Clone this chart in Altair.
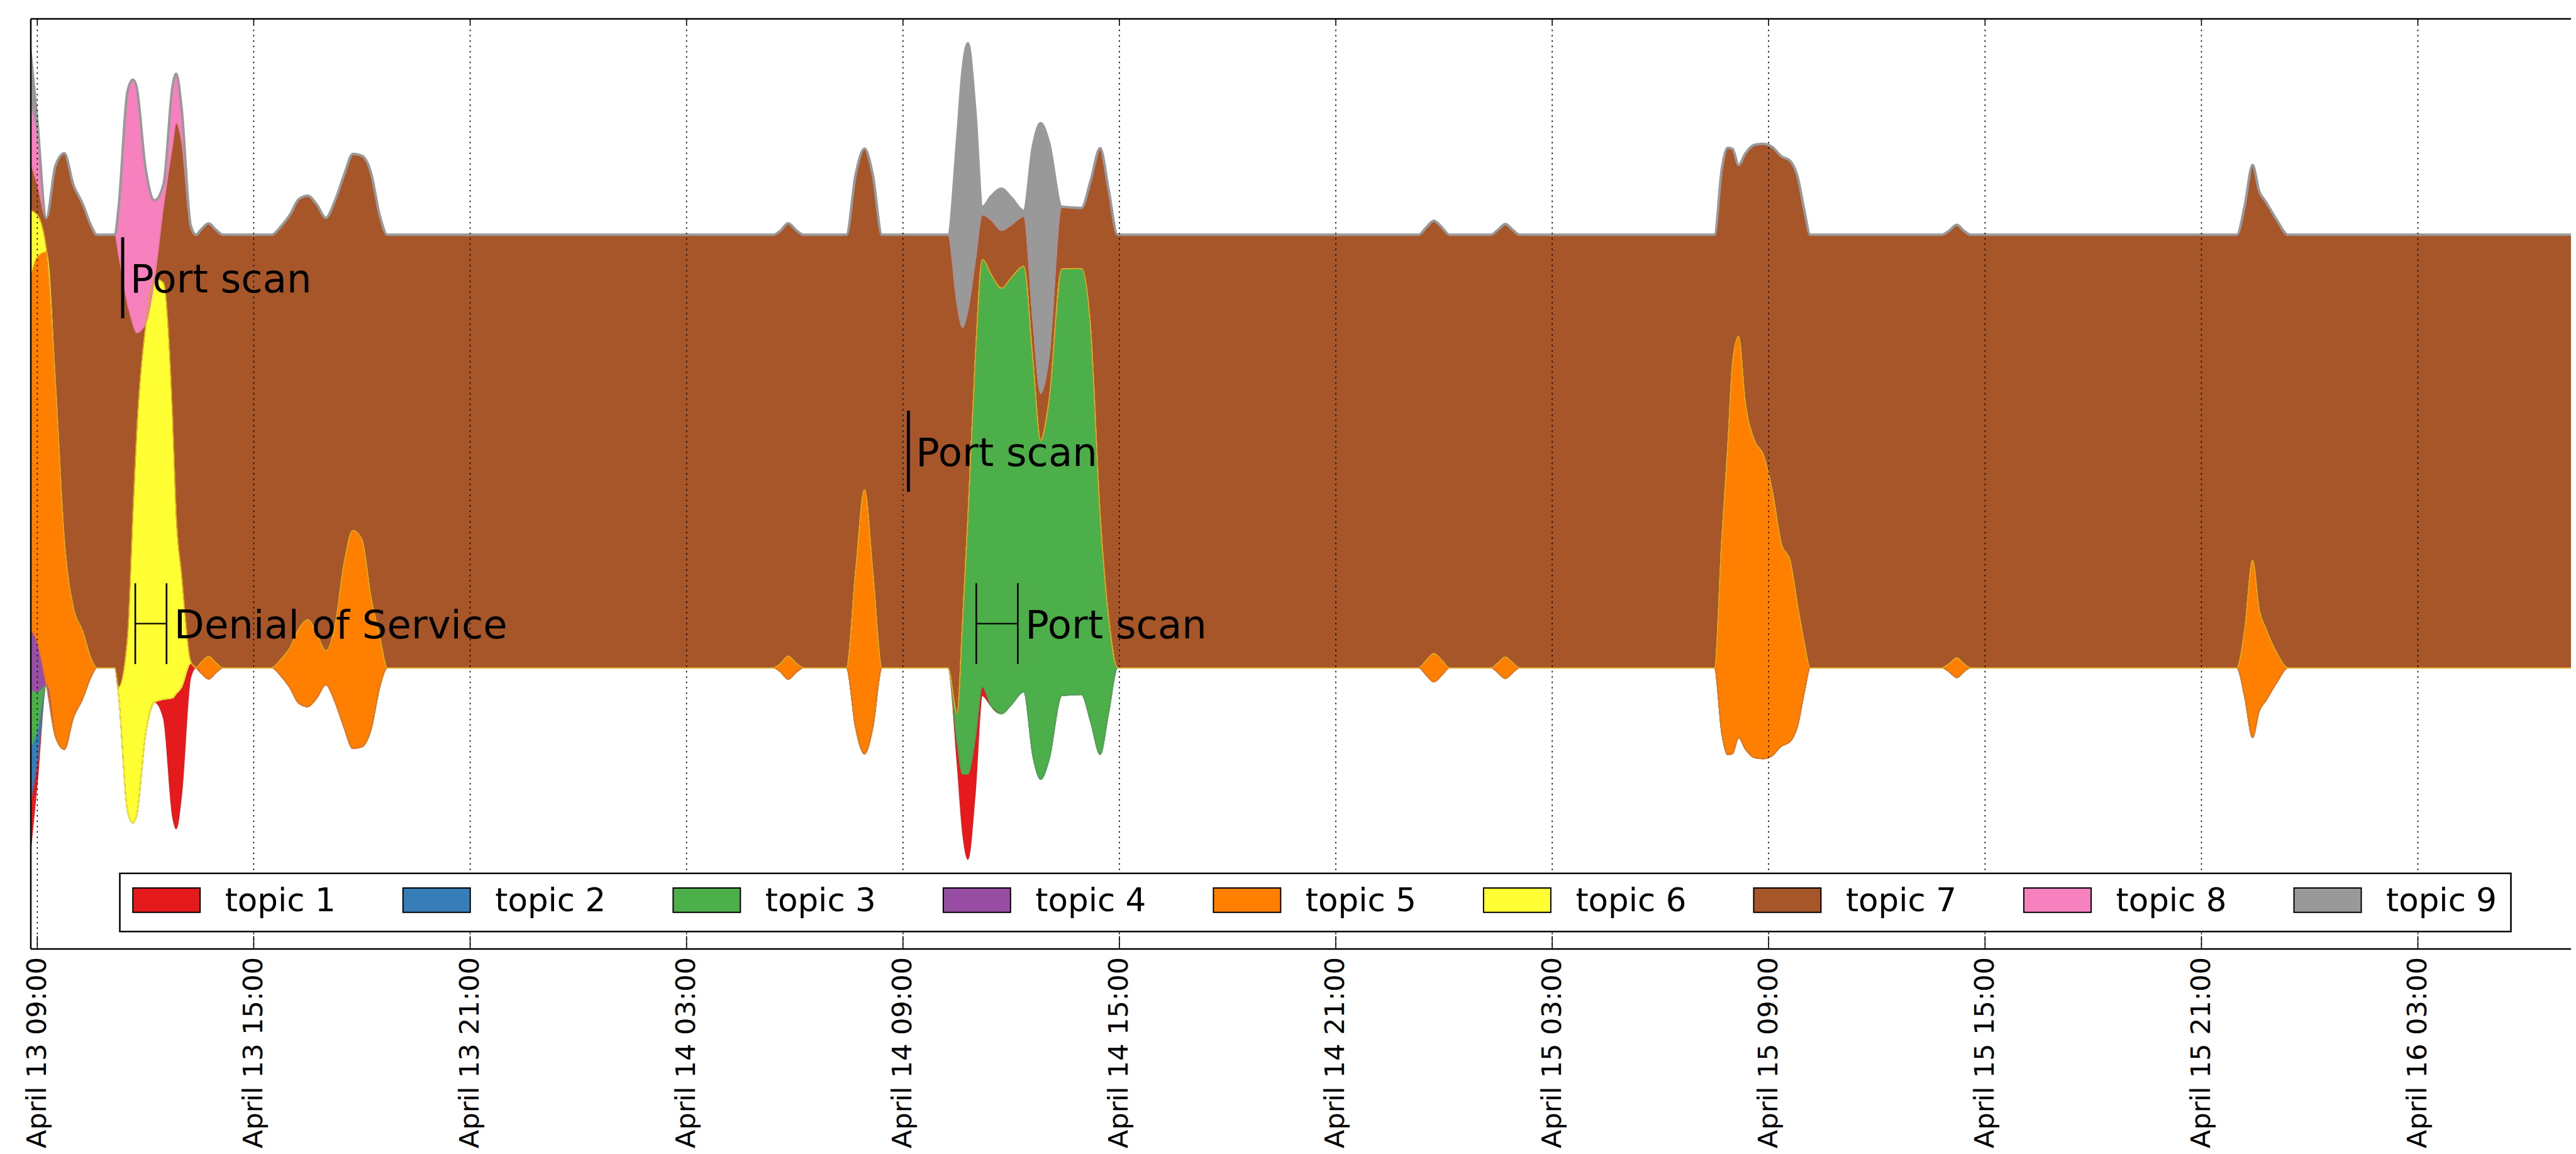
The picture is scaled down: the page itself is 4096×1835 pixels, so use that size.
import altair as alt
import pandas as pd

# ---------------- data ----------------
times = [
    # A
    "2013-04-13T08:45", "2013-04-13T09:00", "2013-04-13T09:15", "2013-04-13T09:30", "2013-04-13T09:45",
    "2013-04-13T10:00", "2013-04-13T10:15", "2013-04-13T10:30", "2013-04-13T10:39", "2013-04-13T11:09",
    # B
    "2013-04-13T11:15", "2013-04-13T11:30", "2013-04-13T11:39", "2013-04-13T11:45", "2013-04-13T12:00",
    "2013-04-13T12:15", "2013-04-13T12:30", "2013-04-13T12:45", "2013-04-13T12:51", "2013-04-13T13:00",
    "2013-04-13T13:15", "2013-04-13T13:24",
    # C
    "2013-04-13T13:33", "2013-04-13T13:45", "2013-04-13T13:57", "2013-04-13T14:09", "2013-04-13T15:30",
    "2013-04-13T15:45", "2013-04-13T16:00", "2013-04-13T16:15", "2013-04-13T16:30", "2013-04-13T16:45",
    # D
    "2013-04-13T17:00", "2013-04-13T17:15", "2013-04-13T17:30", "2013-04-13T17:45", "2013-04-13T18:00",
    "2013-04-13T18:15", "2013-04-13T18:30", "2013-04-13T18:42", "2013-04-14T05:24", "2013-04-14T05:36",
    # E
    "2013-04-14T05:49", "2013-04-14T06:03", "2013-04-14T06:15", "2013-04-14T07:26", "2013-04-14T07:41",
    "2013-04-14T07:56", "2013-04-14T08:10", "2013-04-14T08:25", "2013-04-14T10:15", "2013-04-14T10:30",
    # F
    "2013-04-14T10:39", "2013-04-14T10:48", "2013-04-14T11:00", "2013-04-14T11:12", "2013-04-14T11:27",
    "2013-04-14T11:44", "2013-04-14T12:00", "2013-04-14T12:21", "2013-04-14T12:36", "2013-04-14T12:49",
    # G
    "2013-04-14T13:03", "2013-04-14T13:24", "2013-04-14T13:57", "2013-04-14T14:12", "2013-04-14T14:28",
    "2013-04-14T14:42", "2013-04-14T14:57", "2013-04-14T23:18", "2013-04-14T23:30", "2013-04-14T23:43",
    # H
    "2013-04-14T23:57", "2013-04-15T00:09", "2013-04-15T01:18", "2013-04-15T01:30", "2013-04-15T01:42",
    "2013-04-15T01:54", "2013-04-15T02:06", "2013-04-15T07:30", "2013-04-15T07:42", "2013-04-15T07:52",
    # I
    "2013-04-15T08:00", "2013-04-15T08:10", "2013-04-15T08:21", "2013-04-15T08:36", "2013-04-15T08:51",
    "2013-04-15T09:06", "2013-04-15T09:21", "2013-04-15T09:36", "2013-04-15T09:48", "2013-04-15T10:00",
    # J
    "2013-04-15T10:09", "2013-04-15T13:48", "2013-04-15T14:00", "2013-04-15T14:13", "2013-04-15T14:25",
    "2013-04-15T14:36", "2013-04-15T21:59", "2013-04-15T22:12", "2013-04-15T22:25", "2013-04-15T22:36",
    # K
    "2013-04-15T22:47", "2013-04-15T23:06", "2013-04-15T23:24", "2013-04-16T07:30",
]

topic1 = [
    110, 34, 0, 0, 0, 0, 0, 0, 0, 0,
    0, 0, 0, 0, 0, 0, 34, 210, 239, 190, 25, 0,
    0, 0, 0, 0, 0, 0, 0, 0, 0, 0,
    0, 0, 0, 0, 0, 0, 0, 0, 0, 0,
    0, 0, 0, 0, 0, 0, 0, 0, 0, 36,
    102, 151, 98, 16, 0, 0, 0, 0, 0, 0,
    0, 0, 0, 0, 0, 0, 0, 0, 0, 0,
    0, 0, 0, 0, 0, 0, 0, 0, 0, 0,
    0, 0, 0, 0, 0, 0, 0, 0, 0, 0,
    0, 0, 0, 0, 0, 0, 0, 0, 0, 0,
    0, 0, 0, 0,
]
topic2 = [108, 58] + [0] * 104
topic3 = [
    110, 68, 0, 0, 0, 0, 0, 0, 0, 0,
    0, 0, 0, 0, 0, 0, 0, 0, 0, 0, 0, 0,
    0, 0, 0, 0, 0, 0, 0, 0, 0, 0,
    0, 0, 0, 0, 0, 0, 0, 0, 0, 0,
    0, 0, 0, 0, 0, 0, 0, 0, 0, 50,
    268, 454, 668, 756, 764, 753, 756, 753, 703, 600,
    636, 755, 754, 698, 424, 171, 0, 0, 0, 0,
    0, 0, 0, 0, 0, 0, 0, 0, 0, 0,
    0, 0, 0, 0, 0, 0, 0, 0, 0, 0,
    0, 0, 0, 0, 0, 0, 0, 0, 0, 0,
    0, 0, 0, 0,
]
topic4 = [108, 88] + [0] * 104
topic5 = [
    610, 683, 766, 629, 370, 195, 122, 30, 0, 0,
    0, 0, 0, 0, 0, 0, 0, 0, 0, 0, 0, 0,
    20, 40, 18, 0, 0, 29, 70, 132, 154, 113,
    60, 133, 288, 386, 367, 235, 86, 0, 0, 14,
    41, 15, 0, 0, 273, 468, 273, 0, 0, 0,
    0, 0, 0, 0, 0, 0, 0, 0, 0, 0,
    0, 0, 0, 0, 0, 0, 0, 0, 25, 50,
    25, 0, 0, 18, 38, 18, 0, 0, 343, 546,
    692, 710, 615, 562, 538, 469, 359, 319, 215, 80,
    0, 0, 14, 35, 14, 0, 0, 120, 314, 180,
    128, 50, 0, 0,
]
topic6 = [
    130, 73, 5, 0, 0, 0, 0, 0, 0, 0,
    12, 307, 546, 672, 722, 750, 737, 498, 317, 200, 5, 0,
] + [0] * 84
topic7 = [
    95, 54, 54, 380, 685, 748, 756, 766, 766, 766,
    766, 591, 337, 183, 5, 0, 136, 480, 693, 766, 766, 766,
    766, 766, 766, 766, 766, 766, 766, 760, 750, 760,
    766, 753, 688, 666, 679, 751, 745, 766, 766, 766,
    766, 766, 766, 766, 703, 603, 703, 766, 766, 724,
    522, 366, 176, 79, 96, 102, 93, 88, 68, 83,
    76, 110, 107, 258, 649, 756, 766, 766, 766, 766,
    766, 766, 766, 766, 766, 766, 766, 766, 654, 528,
    378, 303, 438, 522, 550, 608, 685, 708, 758, 766,
    766, 766, 766, 766, 766, 766, 766, 750, 699, 740,
    755, 766, 766, 766,
]
topic8 = [
    105, 88, 0, 0, 0, 0, 0, 0, 0, 0,
    80, 375, 432, 436, 276, 138, 39, 105, 87, 59, 5, 0,
] + [0] * 84
topic9 = [
    120, 25, 0, 0, 0, 0, 0, 0, 0, 0,
    0, 0, 0, 0, 0, 0, 0, 0, 0, 0, 0, 0,
    0, 0, 0, 0, 0, 0, 0, 0, 0, 0,
    0, 0, 0, 0, 0, 0, 0, 0, 0, 0,
    0, 0, 0, 0, 0, 0, 0, 0, 0, 290,
    454, 473, 273, 14, 43, 74, 49, 10, 307, 478,
    380, 0, 0, 0, 0, 0, 0, 0, 0, 0,
    0, 0, 0, 0, 0, 0, 0, 0, 0, 0,
    0, 0, 0, 0, 0, 0, 0, 0, 0, 0,
    0, 0, 0, 0, 0, 0, 0, 0, 0, 0,
    0, 0, 0, 0,
]

topic_names = ["topic 1", "topic 2", "topic 3", "topic 4", "topic 5",
               "topic 6", "topic 7", "topic 8", "topic 9"]
topic_colors = ["#e41a1c", "#377eb8", "#4daf4a", "#984ea3", "#ff7f00",
                "#ffff33", "#a65628", "#f781bf", "#999999"]

tick_times = [
    "2013-04-13T09:00", "2013-04-13T15:00", "2013-04-13T21:00", "2013-04-14T03:00",
    "2013-04-14T09:00", "2013-04-14T15:00", "2013-04-14T21:00", "2013-04-15T03:00",
    "2013-04-15T09:00", "2013-04-15T15:00", "2013-04-15T21:00", "2013-04-16T03:00",
]

ann_start = ["2013-04-13T11:22", "2013-04-13T11:43", "2013-04-14T09:09", "2013-04-14T11:02"]
ann_end = ["2013-04-13T11:22", "2013-04-13T12:35", "2013-04-14T09:09", "2013-04-14T12:11"]
ann_level = [307, -305, 0, -305]          # relative to the stream centre line
ann_text = ["Port scan", "Denial of Service", "Port scan", "Port scan"]

# ---------------- layout ----------------
W, H = 4041, 1479
FONT = "DejaVu Sans"
LEG_X0, LEG_PITCH = 162.8, 429.7        # legend swatch layout (pixels)

series = [topic1, topic2, topic3, topic4, topic5, topic6, topic7, topic8, topic9]
for s in series:
    assert len(s) == len(times), (len(s), len(times))

rows = []
for k, (name, vals) in enumerate(zip(topic_names, series)):
    for t, v in zip(times, vals):
        rows.append({"time": t, "topic": name, "order": k, "value": v})
df = pd.DataFrame(rows)

totals = [sum(col) for col in zip(*series)]
mid = max(totals) / 2.0            # vega's "center" stack puts the stream centre at max/2
y_dom = [mid - 880, mid + 765]


def dt(s):
    p = pd.Timestamp(s)
    return alt.DateTime(year=p.year, month=p.month, date=p.day,
                        hours=p.hour, minutes=p.minute, seconds=p.second)


x_scale = alt.Scale(domain=[dt("2013-04-13T08:48:40"), dt("2013-04-16T07:14:40")], nice=False)
y_scale = alt.Scale(domain=y_dom, nice=False, zero=False)
c_scale = alt.Scale(domain=topic_names, range=topic_colors)

x_axis = alt.Axis(values=[dt(t) for t in tick_times], format="%B %d %H:%M",
                  labelAngle=270, labelAlign="right", labelBaseline="middle",
                  labelFontSize=43, labelFont=FONT, labelColor="black", labelPadding=13,
                  labelFlush=False, labelOverlap=False, labelBound=False, labelLimit=1000,
                  ticks=False, tickSize=0, grid=False, domainColor="black", domainWidth=2.5,
                  title=None, zindex=1)
y_axis = alt.Axis(labels=False, ticks=False, grid=False, domainColor="black",
                  domainWidth=2.5, title=None, zindex=1)

base = alt.Chart(df).transform_stack(
    stack="value", groupby=["time"], as_=["y0", "y1"], offset="center",
    sort=[alt.SortField(field="order", order="ascending")],
)

areas = base.mark_area(interpolate="monotone", clip=True, opacity=1).encode(
    x=alt.X("time:T", scale=x_scale, axis=x_axis, title=None),
    y=alt.Y("y0:Q", scale=y_scale, axis=y_axis, title=None),
    y2="y1:Q",
    color=alt.Color("topic:N", scale=c_scale, legend=None),
)

area_edges = base.mark_area(interpolate="monotone", clip=True, fillOpacity=0, strokeWidth=1.5).encode(
    x=alt.X("time:T", title=None),
    y=alt.Y("y0:Q", title=None),
    y2="y1:Q",
    stroke=alt.Stroke("topic:N", scale=c_scale, legend=None),
)

# thin yellow edge where the lower layers meet the brown band (as in the reference)
low_edge = base.transform_filter(alt.datum.topic == "topic 6").mark_line(
    color="#e8b820", strokeWidth=1.2, interpolate="monotone", clip=True
).encode(x=alt.X("time:T", title=None), y=alt.Y("y1:Q", title=None))

top_line = base.transform_filter(alt.datum.topic == "topic 9").mark_line(
    color="#999999", strokeWidth=4, interpolate="monotone", clip=True
).encode(x=alt.X("time:T", title=None), y=alt.Y("y1:Q", title=None))

ticks_df = pd.DataFrame({"time": tick_times})
grid = alt.Chart(ticks_df).mark_rule(color="black", strokeWidth=1.6, strokeDash=[2.5, 6]).encode(
    x=alt.X("time:T", title=None))
ticks_bottom = alt.Chart(ticks_df).mark_rule(color="black", strokeWidth=1.6).encode(
    x=alt.X("time:T", title=None), y=alt.value(H - 20), y2=alt.value(H))
ticks_top = alt.Chart(ticks_df).mark_rule(color="black", strokeWidth=1.6).encode(
    x=alt.X("time:T", title=None), y=alt.value(0), y2=alt.value(9))

one = pd.DataFrame({"a": [0]})
top_frame = alt.Chart(one).mark_rule(color="black", strokeWidth=2.5).encode(
    x=alt.value(0), x2=alt.value(W), y=alt.value(0))

ann_df = pd.DataFrame({"start": ann_start, "end": ann_end,
                       "y": [mid + v for v in ann_level], "label": ann_text})
ann_df["lo"] = ann_df["y"] - 71.5
ann_df["hi"] = ann_df["y"] + 71.5
ann_base = alt.Chart(ann_df)
bar_w = alt.condition("time(datum.start) === time(datum.end)", alt.value(4.5), alt.value(2.6))
bar_a = ann_base.mark_rule(color="black").encode(
    x=alt.X("start:T", title=None), y=alt.Y("lo:Q", title=None), y2="hi:Q", strokeWidth=bar_w)
bar_b = ann_base.mark_rule(color="black").encode(
    x=alt.X("end:T", title=None), y=alt.Y("lo:Q", title=None), y2="hi:Q", strokeWidth=bar_w)
hbar = ann_base.mark_rule(color="black", strokeWidth=2.2).encode(
    x=alt.X("start:T", title=None), x2="end:T", y=alt.Y("y:Q", title=None))
ann_label = ann_base.mark_text(align="left", baseline="middle", dx=12, dy=4,
                               fontSize=62.5, font=FONT, color="black").encode(
    x=alt.X("end:T", title=None), y=alt.Y("y:Q", title=None), text="label:N")

# ---- legend (box, swatches with black edges, labels) ----
legend_box = alt.Chart(one).mark_rect(fill="white", stroke="black", strokeWidth=2.5).encode(
    x=alt.value(142.1), x2=alt.value(3945.5), y=alt.value(1359.3), y2=alt.value(1451.8))

leg_df = pd.DataFrame({"topic": topic_names, "idx": list(range(len(topic_names)))})
leg_base = alt.Chart(leg_df).transform_calculate(
    sx=f"{LEG_X0} + {LEG_PITCH} * datum.idx",
    sx2=f"{LEG_X0} + 107 + {LEG_PITCH} * datum.idx",
    tx=f"{LEG_X0} + 146.5 + {LEG_PITCH} * datum.idx",
)
leg_swatch = leg_base.mark_rect(stroke="black", strokeWidth=2).encode(
    x=alt.X("sx:Q", scale=None, title=None), x2="sx2:Q",
    y=alt.value(1382.6), y2=alt.value(1421.2),
    fill=alt.Fill("topic:N", scale=c_scale, legend=None),
)
leg_text = leg_base.mark_text(align="left", baseline="alphabetic", fontSize=51.5,
                              font=FONT, color="black").encode(
    x=alt.X("tx:Q", scale=None, title=None), y=alt.value(1419.5), text="topic:N")

chart = alt.layer(
    areas, area_edges, low_edge, top_line, grid, ticks_bottom, ticks_top, top_frame,
    bar_a, bar_b, hbar, ann_label, legend_box, leg_swatch, leg_text,
).properties(
    width=W, height=H,
    autosize=alt.AutoSizeParams(type="none"),
    padding={"left": 40.5, "top": 21.7, "right": 0, "bottom": 318},
    background="white",
).configure_view(strokeWidth=0).configure(font=FONT)

chart.save("out.html", embed_options={"renderer": "svg", "actions": False})
